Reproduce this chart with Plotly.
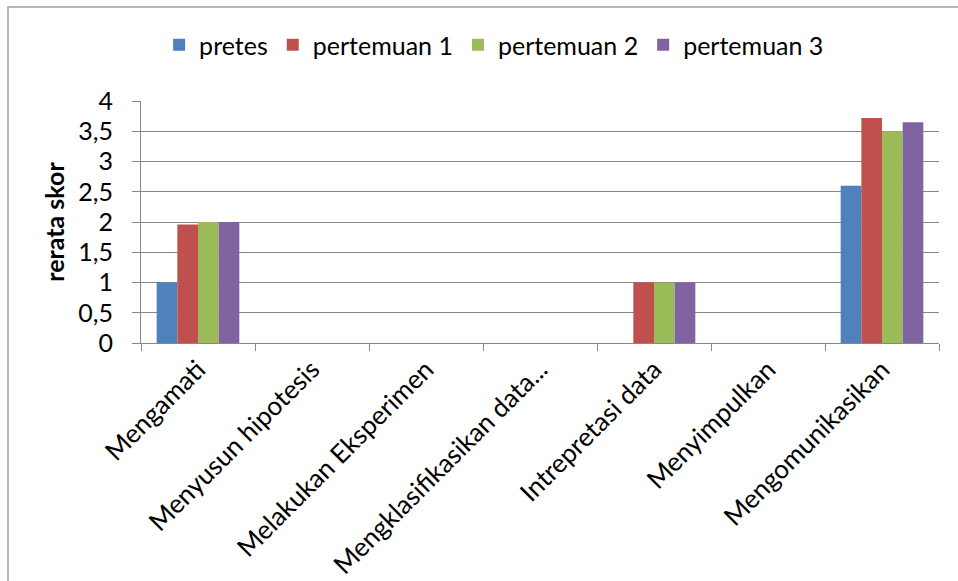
import plotly.graph_objects as go

categories = ["Mengamati", "Menyusun hipotesis", "Melakukan Eksperimen",
              "Mengklasifikasikan data...", "Intrepretasi data", "Menyimpulkan",
              "Mengomunikasikan"]
pretes = [1, 0, 0, 0, 0, 0, 2.6]
pertemuan1 = [1.96, 0, 0, 0, 1, 0, 3.72]
pertemuan2 = [2, 0, 0, 0, 1, 0, 3.5]
pertemuan3 = [2, 0, 0, 0, 1, 0, 3.65]
series_names = ["pretes", "pertemuan 1", "pertemuan 2", "pertemuan 3"]
colors = ["#4F81BD", "#C0504D", "#9BBB59", "#8064A2"]
y_ticks = [0, 0.5, 1, 1.5, 2, 2.5, 3, 3.5, 4]

FONT = "Lato, Open Sans, sans-serif"

fig = go.Figure()
for name, vals, col in zip(series_names, [pretes, pertemuan1, pertemuan2, pertemuan3], colors):
    fig.add_trace(go.Bar(x=categories, y=vals, name=name,
                         marker=dict(color=col, line=dict(width=0))))

W, H = 958, 581
L, R, T, B = 141, 19, 101, 238
pw = W - L - R
ph = H - T - B

fig.update_layout(
    width=W, height=H,
    margin=dict(l=L, r=R, t=T, b=B, autoexpand=False),
    paper_bgcolor="white", plot_bgcolor="white",
    barmode="group", bargap=0.275, bargroupgap=0,
    separators=", ",
    font=dict(family=FONT, size=24, color="#000000"),
    showlegend=True,
    legend=dict(orientation="h", x=0.4425, xanchor="center", y=1 + 56 / ph, yanchor="middle",
                font=dict(family=FONT, size=25), itemwidth=30, traceorder="normal",
                bgcolor="rgba(0,0,0,0)"),
    xaxis=dict(showline=True, linecolor="#868686", linewidth=1,
               ticks="outside", ticklen=7, tickcolor="#868686", tickson="boundaries",
               tickangle=-45, tickfont=dict(family=FONT, size=26), showgrid=False),
    yaxis=dict(range=[0, 4], tickvals=y_ticks, ticktext=[str(v).replace(".", ",") if v != int(v) else str(int(v)) for v in y_ticks],
               showline=True, linecolor="#868686", linewidth=1,
               ticks="outside", ticklen=8, tickcolor="#868686",
               showgrid=True, gridcolor="#868686", gridwidth=1,
               tickfont=dict(family=FONT, size=25), zeroline=False, ticklabelstandoff=14,
               title=dict(text="<b>rerata skor</b>", font=dict(family=FONT, size=25), standoff=6)),
    shapes=[dict(type="rect", xref="paper", yref="paper",
                 x0=(8 - L) / pw, x1=(W + 20 - L) / pw,
                 y0=-(B + 30) / ph, y1=(T + ph - 7) / ph,
                 line=dict(color="#A0A0A0", width=1.5), fillcolor="rgba(0,0,0,0)", layer="below")],
)

fig.write_html("out.html")
